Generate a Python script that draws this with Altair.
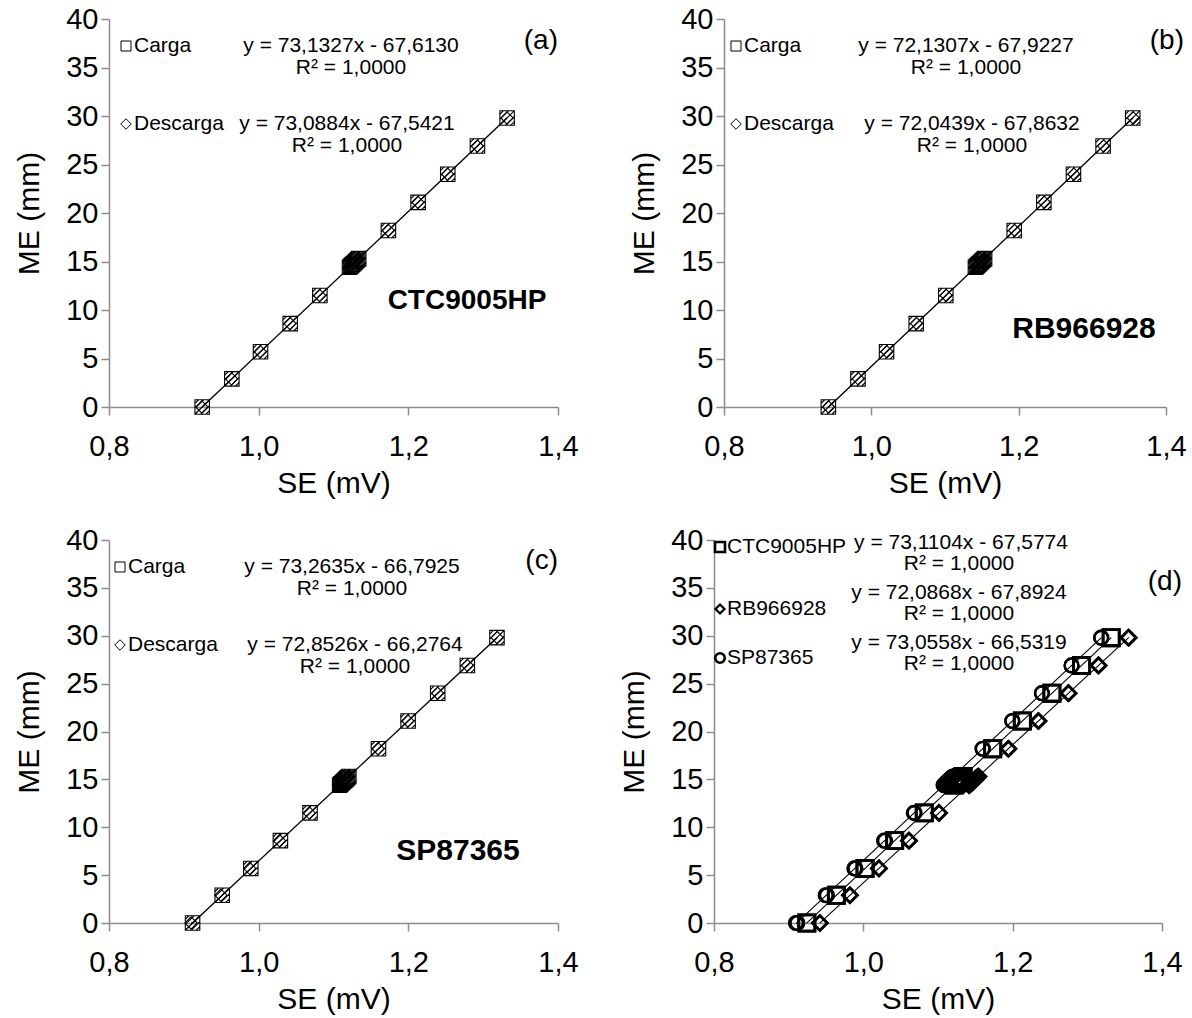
import altair as alt
import pandas as pd

FONT = "Liberation Sans"

# ---------------- data ----------------
ME = [0, 2.9, 5.7, 8.6, 11.5, 14.4, 14.5, 14.6, 14.7, 14.8, 14.9, 15.0,
      15.1, 15.2, 15.3, 18.2, 21.1, 24.0, 26.9, 29.8]

CTC_CARGA = [0.92452, 0.96417, 1.00246, 1.04212, 1.08177, 1.12142, 1.12279,
             1.12416, 1.12553, 1.12690, 1.12826, 1.12963, 1.13100, 1.13237,
             1.13374, 1.17338, 1.21304, 1.25269, 1.29235, 1.33200]
CTC_DESC = [0.92412, 0.96379, 1.00210, 1.04178, 1.08146, 1.12114, 1.12251,
            1.12389, 1.12525, 1.12663, 1.12800, 1.12937, 1.13074, 1.13211,
            1.13347, 1.17313, 1.21281, 1.25248, 1.29216, 1.33184]
RB_CARGA = [0.94166, 0.98187, 1.02068, 1.06089, 1.10109, 1.14130, 1.14269,
            1.14407, 1.14546, 1.14684, 1.14823, 1.14962, 1.15100, 1.15239,
            1.15377, 1.19398, 1.23419, 1.27439, 1.31460, 1.35480]
RB_DESC = [0.94197, 0.98222, 1.02109, 1.06134, 1.10160, 1.14185, 1.14324,
           1.14462, 1.14601, 1.14740, 1.14879, 1.15018, 1.15156, 1.15295,
           1.15434, 1.19459, 1.23485, 1.27510, 1.31535, 1.35561]
SP_CARGA = [0.91168, 0.95126, 0.98948, 1.02906, 1.06864, 1.10823, 1.10959,
            1.11094, 1.11231, 1.11367, 1.11504, 1.11641, 1.11777, 1.11914,
            1.12050, 1.16009, 1.19968, 1.23926, 1.27884, 1.31842]
SP_DESC = [0.90973, 0.94954, 0.98797, 1.02778, 1.06759, 1.10739, 1.10876,
           1.11014, 1.11151, 1.11288, 1.11425, 1.11563, 1.11700, 1.11837,
           1.11974, 1.15955, 1.19936, 1.23916, 1.27897, 1.31878]

X_TICKS = [0.8, 1.0, 1.2, 1.4]
Y_TICKS = [0, 5, 10, 15, 20, 25, 30, 35, 40]
SERIES = ["Carga", "Descarga"]
VARIETIES = ["CTC9005HP", "RB966928", "SP87365"]
EQ_A = ["y = 73,1327x - 67,6130", "y = 73,0884x - 67,5421"]
EQ_B = ["y = 72,1307x - 67,9227", "y = 72,0439x - 67,8632"]
EQ_C = ["y = 73,2635x - 66,7925", "y = 72,8526x - 66,2764"]
EQ_D = ["y = 73,1104x - 67,5774", "y = 72,0868x - 67,8924", "y = 73,0558x - 66,5319"]
R2 = "R² = 1,0000"
TAGS = ["(a)", "(b)", "(c)", "(d)"]

# ---------------- styles ----------------
SQ_HATCH = ("M-1,-1L1,-1L1,1L-1,1Z M-1,0.2L0.2,-1 M-1,1L1,-1 "
            "M-0.2,1L1,-0.2 M-1,-0.5L-0.5,-1 M0.5,1L1,0.5")
DIAM = "M0,-0.85L0.85,0L0,0.85L-0.85,0Z"
SQ = "M-1,-1L1,-1L1,1L-1,1Z"
DIA = "M0,-1L1,0L0,1L-1,0Z"

LABEL_EXPR = "replace(format(datum.value, '.1f'), '.', ',')"
TXT = 21


def xenc():
    return alt.X("SE:Q", scale=alt.Scale(domain=[0.8, 1.4], nice=False, zero=False),
                 axis=alt.Axis(values=X_TICKS, labelExpr=LABEL_EXPR, title="SE (mV)"))


def yenc():
    return alt.Y("ME:Q", scale=alt.Scale(domain=[0, 40], nice=False),
                 axis=alt.Axis(values=Y_TICKS, title="ME (mm)"))


def txt(s, x, y, size=TXT, align="center", bold=False):
    return alt.Chart(pd.DataFrame({"t": [s]})).mark_text(
        font=FONT, fontSize=size, align=align, baseline="middle", color="black",
        fontWeight="bold" if bold else "normal"
    ).encode(x=alt.value(x), y=alt.value(y), text="t:N")


def sym(shape, x, y, size, sw=1.0):
    return alt.Chart(pd.DataFrame({"t": [0]})).mark_point(
        shape=shape, size=size, filled=False, color="black", strokeWidth=sw, opacity=1
    ).encode(x=alt.value(x), y=alt.value(y))


def panel_ac(carga, desc, eqs, tag, name, lay, W, H):
    df = pd.DataFrame({
        "SE": carga + desc,
        "ME": ME + ME,
        "serie": [SERIES[0]] * len(ME) + [SERIES[1]] * len(ME),
    })
    base = alt.Chart(df).encode(x=xenc(), y=yenc())
    lines = base.transform_regression("SE", "ME", groupby=["serie"]).mark_line(
        color="black", strokeWidth=1.3)
    pc = base.transform_filter(alt.datum.serie == SERIES[0]).mark_point(
        shape=SQ_HATCH, size=210, filled=False, color="black", strokeWidth=1.1, opacity=1)
    pd_ = base.transform_filter(alt.datum.serie == SERIES[1]).mark_point(
        shape=DIAM, size=210, filled=False, color="black", strokeWidth=1.1, opacity=1)
    L = lay
    layers = [
        lines, pc, pd_,
        sym(SQ, L["mx"], L["y1"], 100), txt(SERIES[0], L["tx"], L["y1"], align="left"),
        sym(DIA, L["mx"], L["y2"], 110), txt(SERIES[1], L["tx"], L["y2"], align="left"),
        txt(eqs[0], L["e1x"], L["y1"]), txt(R2, L["e1x"], L["y1"] + 22),
        txt(eqs[1], L["e2x"], L["y2"]), txt(R2, L["e2x"], L["y2"] + 22),
        txt(tag, L["tagx"], L["tagy"], size=28, align="right"),
        txt(name, L["nx"], L["ny"], size=L["ns"], bold=True),
    ]
    return alt.layer(*layers).properties(width=W, height=H)


def panel_d(W, H):
    se = CTC_CARGA + CTC_DESC + RB_CARGA + RB_DESC + SP_CARGA + SP_DESC
    var = []
    for v in VARIETIES:
        var += [v] * (2 * len(ME))
    df = pd.DataFrame({"SE": se, "ME": ME * 6, "var": var})
    base = alt.Chart(df).encode(x=xenc(), y=yenc())
    lines = base.transform_regression("SE", "ME", groupby=["var"]).mark_line(
        color="black", strokeWidth=1.1).encode(detail="var:N")
    pts = base.mark_point(filled=False, color="black", opacity=1).encode(
        shape=alt.Shape("var:N", scale=alt.Scale(domain=VARIETIES,
                                                 range=["square", "diamond", "circle"]), legend=None),
        size=alt.Size("var:N", scale=alt.Scale(domain=VARIETIES, range=[260, 190, 250]), legend=None),
        strokeWidth=alt.StrokeWidth("var:N", scale=alt.Scale(domain=VARIETIES, range=[2.8, 2.4, 2.8]),
                                    legend=None),
    )
    layers = [
        lines, pts,
        sym("square", 6, 7, 100, 2.6), txt(VARIETIES[0], 13, 7, align="left"),
        sym("diamond", 6, 69, 80, 2.3), txt(VARIETIES[1], 13, 69, align="left"),
        sym("circle", 6, 118, 90, 2.6), txt(VARIETIES[2], 13, 118, align="left"),
        txt(EQ_D[0], 247, 3), txt(R2, 245, 24),
        txt(EQ_D[1], 245, 53), txt(R2, 245, 74),
        txt(EQ_D[2], 245, 103), txt(R2, 245, 124),
        txt(TAGS[3], 468, 42, size=28, align="right"),
    ]
    return alt.layer(*layers).properties(width=W, height=H)


LAY_A = dict(mx=17, tx=25, y1=27, y2=105, e1x=242, e2x=238, tagx=449, tagy=22, nx=358, ny=282, ns=28)
LAY_B = dict(mx=12, tx=20, y1=27, y2=105, e1x=242, e2x=248, tagx=460, tagy=22, nx=360, ny=310, ns=30)
LAY_C = dict(mx=11, tx=19, y1=27, y2=105, e1x=243, e2x=246, tagx=449, tagy=21, nx=349, ny=311, ns=30)

pa = panel_ac(CTC_CARGA, CTC_DESC, EQ_A, TAGS[0], VARIETIES[0], LAY_A, 449, 388)
pb = panel_ac(RB_CARGA, RB_DESC, EQ_B, TAGS[1], VARIETIES[1], LAY_B, 442, 388)
pc = panel_ac(SP_CARGA, SP_DESC, EQ_C, TAGS[2], VARIETIES[2], LAY_C, 449, 383)
pdd = panel_d(448, 383)

row1 = alt.hconcat(pa, pb, spacing=50)
row2 = alt.hconcat(pc, pdd, spacing=40)

chart = alt.vconcat(row1, row2, spacing=28).configure_axis(
    labelFont=FONT, titleFont=FONT, labelFontSize=29, titleFontSize=30,
    labelColor="black", titleColor="black", titleFontWeight="normal",
    domainColor="#8c8c8c", tickColor="#8c8c8c", domainWidth=1.5, tickWidth=1.5,
    tickSize=8, grid=False, labelFlush=False, labelOverlap=False, labelPadding=3,
).configure_axisX(titlePadding=7, labelPadding=17).configure_axisY(titlePadding=21).configure_view(
    stroke=None
).properties(padding={"left": 14, "top": 5, "right": 5, "bottom": 5}, background="white")

chart.save("out.html", embed_options={"renderer": "svg", "actions": False})
